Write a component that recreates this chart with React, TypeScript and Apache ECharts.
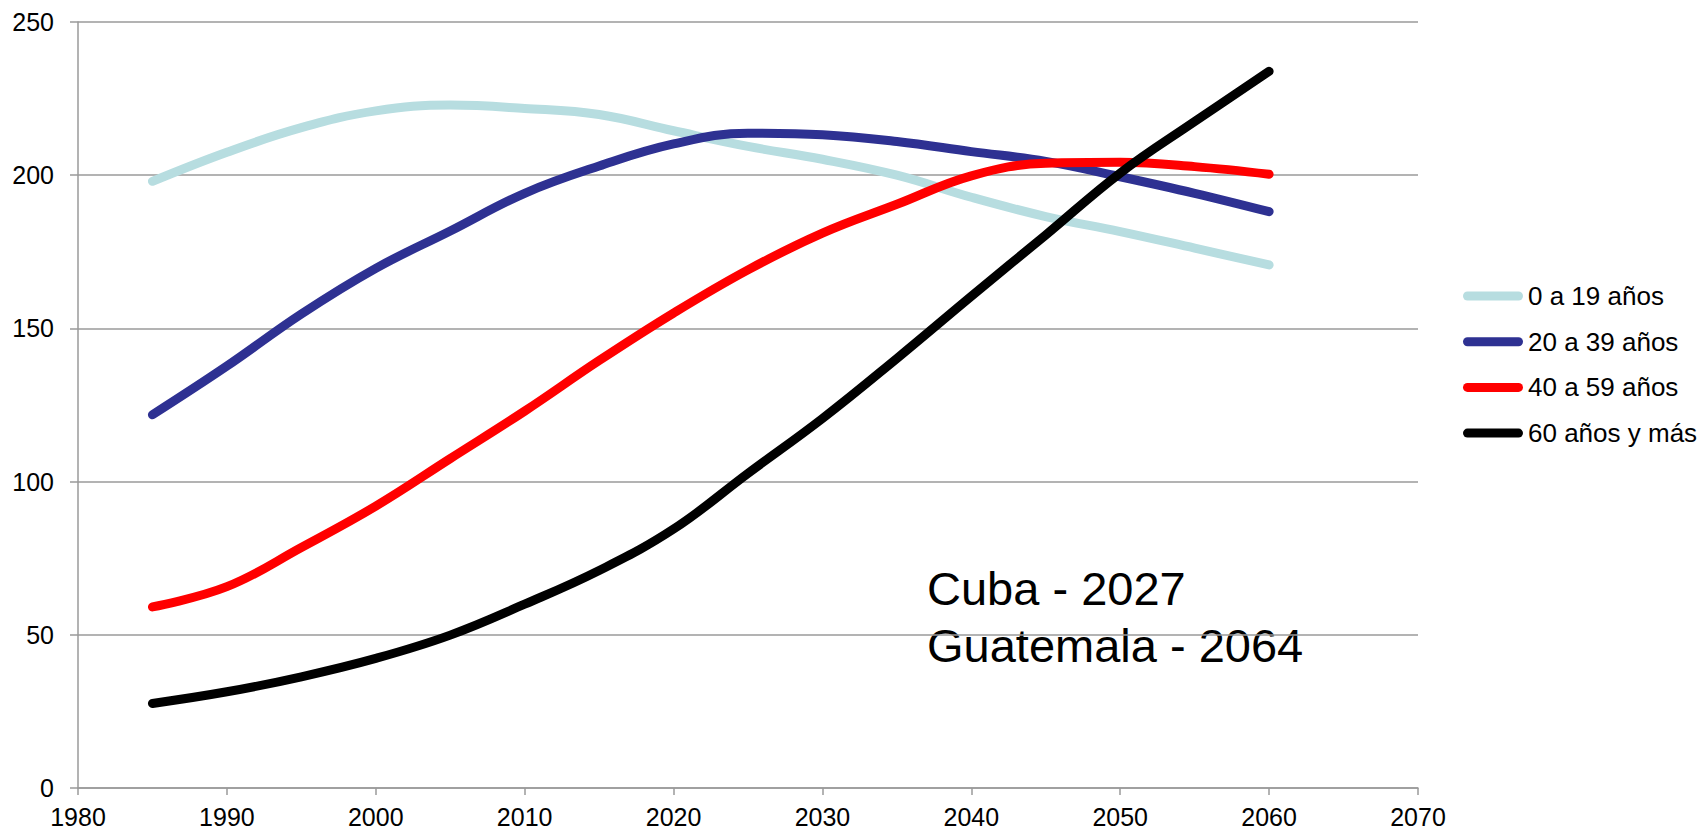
import React, { useEffect, useRef } from "react";
import * as echarts from "echarts";

const years = [1985, 1990, 1995, 2000, 2005, 2010, 2015, 2020, 2025, 2030, 2035, 2040, 2045, 2050, 2055, 2060];
const seriesNames = ["0 a 19 años", "20 a 39 años", "40 a 59 años", "60 años y más"];
const age0to19 = [198, 207.5, 215.5, 221, 222.9, 221.8, 219.8, 214.5, 209.4, 205.2, 200, 192.8, 186.5, 181.6, 176.2, 170.7];
const age20to39 = [121.8, 137.7, 154.7, 169.6, 181.8, 194.1, 203, 210.2, 213.7, 213.2, 211, 207.7, 204.5, 199.5, 194.1, 188.1];
const age40to59 = [59.1, 65.7, 78.5, 92, 107.5, 123, 139.5, 155, 169.1, 181.1, 190.5, 199.8, 203.9, 204.2, 202.8, 200.3];
const age60plus = [27.6, 31.4, 36.3, 42.3, 49.9, 60, 71, 84.5, 102.7, 120.6, 140.2, 160.5, 180.5, 200.7, 217.5, 233.9];
const colors = ["#b7dde0", "#2e3192", "#ff0000", "#000000"];
const annotationLines = ["Cuba - 2027", "Guatemala - 2064"];

export default function App() {
  const ref = useRef<HTMLDivElement>(null);
  useEffect(() => {
    if (!ref.current) return;
    const chart = echarts.init(ref.current, null, { renderer: "svg" });
    const allValues = [age0to19, age20to39, age40to59, age60plus];
    const font = "'Liberation Sans', Arial, sans-serif";
    const axisColor = "#9a9a9a";
    const stadium = "path://M4.5,0 H55.5 A4.5,4.5 0 0 1 55.5,9 H4.5 A4.5,4.5 0 0 1 4.5,0 Z";
    chart.setOption({
      animation: false,
      backgroundColor: "#ffffff",
      grid: { left: 78, top: 22, width: 1340, height: 766, containLabel: false },
      xAxis: {
        type: "value",
        min: 1980,
        max: 2070,
        interval: 10,
        axisLine: { show: true, lineStyle: { color: axisColor, width: 1.5 } },
        axisTick: { show: true, length: 7, lineStyle: { color: axisColor, width: 1.5 } },
        splitLine: { show: false },
        axisLabel: {
          color: "#000",
          fontSize: 25,
          fontFamily: font,
          margin: 16,
          formatter: (v: number) => String(v),
        },
      },
      yAxis: {
        type: "value",
        min: 0,
        max: 250,
        interval: 50,
        axisLine: { show: true, lineStyle: { color: axisColor, width: 1.5 } },
        axisTick: { show: true, length: 8, lineStyle: { color: axisColor, width: 1.5 } },
        splitLine: { show: true, lineStyle: { color: axisColor, width: 1.5 } },
        axisLabel: { color: "#000", fontSize: 25, fontFamily: font, margin: 24 },
      },
      legend: {
        orient: "vertical",
        left: 1458,
        top: 278,
        itemWidth: 60,
        itemHeight: 9,
        itemGap: 19.7,
        icon: stadium,
        textStyle: { color: "#000", fontSize: 26, fontFamily: font },
        data: seriesNames.map((n, i) => ({ name: n, itemStyle: { color: colors[i] } })),
      },
      graphic: annotationLines.map((t, i) => ({
        type: "text",
        left: 927,
        top: 565 + i * 57,
        style: { text: t, fontSize: 47, fontFamily: font, fill: "#000" },
      })),
      series: seriesNames.map((name, i) => ({
        name,
        type: "line",
        smooth: 0.4,
        symbol: "none",
        color: colors[i],
        lineStyle: { color: colors[i], width: 9, cap: "round", join: "round" },
        data: years.map((y, j) => [y, allValues[i][j]]),
      })),
    });
    return () => chart.dispose();
  }, []);
  return (
    <div
      ref={ref}
      style={{ position: "fixed", left: 0, top: 0, width: 1702, height: 833, background: "#fff" }}
    />
  );
}
